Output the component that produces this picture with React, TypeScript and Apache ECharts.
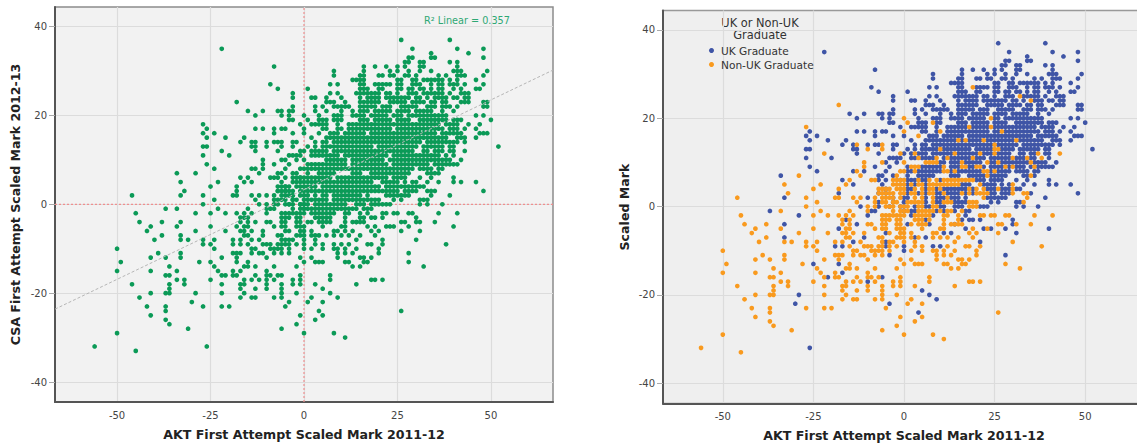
import React, { useEffect, useRef } from "react";
import * as echarts from "echarts";

const xTicks = [-50, -25, 0, 25, 50];
const yTicks = [-40, -20, 0, 20, 40];
const xTitle = "AKT First Attempt Scaled Mark 2011-12";
const yTitleLeft = "CSA First Attempt Scaled Mark 2012-13";
const yTitleRight = "Scaled Mark";
const legendTitle = "UK or Non-UK\nGraduate";
const nameUk = "UK Graduate";
const nameNonUk = "Non-UK Graduate";
const fitLabel = "R² Linear = 0.357";
const fitLine = [[-66.6, -23.6], [66.6, 30.2]];
const refLineH = [[-66.6, 0], [66.6, 0]];
const refLineV = [[0, -44.5], [0, 44.4]];

// Each row: [CSA mark, AKT marks at that CSA mark]
const ukRows: [number, number[]][] = [
  [37, [26, 39]],
  [35, [-22, 29, 41, 48]],
  [34, [34, 44]],
  [33, [28, 29, 34, 35, 48]],
  [32, [27, 28, 31, 32, 39, 41]],
  [31, [-8, 16, 19, 22, 25, 27, 31, 32, 41]],
  [30, [8, 16, 23, 25, 28, 31, 34, 40, 41, 42, 49]],
  [29, [8, 15, 16, 20, 21, 23, 24, 27, 28, 30, 36, 38, 41, 42, 43, 48]],
  [28, [13, 14, 15, 16, 25, 26, 29, 30, 32, 33, 34, 35, 36, 37, 39, 41, 46]],
  [27, [-9, 7, 9, 15, 16, 20, 21, 22, 23, 25, 26, 29, 30, 31, 34, 36, 37, 39, 40, 41, 43, 48]],
  [26, [-7, 1, 15, 16, 17, 20, 21, 25, 26, 28, 29, 31, 32, 34, 36, 37, 40, 42, 46, 47]],
  [25, [-3, 7, 9, 14, 15, 16, 17, 18, 19, 20, 22, 23, 25, 28, 29, 30, 33, 34, 35, 36, 37, 39, 42, 43, 44]],
  [24, [-3, 2, 3, 6, 10, 15, 17, 18, 19, 20, 22, 23, 24, 25, 26, 27, 28, 30, 31, 33, 36, 37, 38, 40, 41, 43, 44]],
  [23, [6, 7, 8, 11, 15, 16, 17, 18, 19, 20, 23, 24, 25, 26, 27, 29, 30, 31, 32, 34, 35, 37, 38, 42, 43, 44, 48, 49]],
  [22, [-3, 3, 5, 8, 9, 10, 11, 12, 15, 16, 17, 18, 19, 21, 22, 23, 26, 27, 28, 29, 30, 33, 34, 35, 37, 38, 39, 41, 48, 49]],
  [21, [-15, -11, -7, -6, -4, -3, 3, 6, 10, 13, 15, 16, 17, 19, 20, 21, 22, 23, 25, 26, 27, 28, 30, 31, 32, 33, 34, 37, 40]],
  [20, [-13, -6, -4, 4, 8, 9, 10, 13, 14, 15, 16, 18, 19, 20, 21, 22, 25, 26, 28, 29, 30, 31, 32, 33, 34, 35, 36, 37, 38, 46, 48]],
  [19, [-4, -3, 4, 5, 6, 9, 10, 15, 16, 17, 19, 20, 21, 22, 23, 25, 26, 27, 28, 31, 32, 33, 34, 35, 36, 37, 38, 40, 41, 42, 50]],
  [18, [-1, 2, 3, 4, 5, 6, 9, 12, 13, 14, 15, 16, 17, 19, 20, 21, 22, 23, 25, 26, 27, 28, 29, 30, 31, 32, 33, 34, 35, 36, 38, 39, 40, 41, 44, 47]],
  [17, [-26, -13, -11, -8, -6, -5, 5, 6, 9, 12, 13, 14, 15, 16, 17, 18, 19, 20, 21, 22, 23, 25, 26, 28, 29, 30, 31, 32, 33, 34, 35, 36, 37, 39, 40, 41, 43, 46]],
  [16, [-27, -24, -8, -3, 0, 7, 8, 9, 11, 12, 13, 14, 15, 16, 18, 19, 20, 21, 22, 23, 24, 25, 26, 27, 28, 29, 30, 31, 32, 33, 34, 35, 37, 38, 39, 40, 41, 42, 47, 48, 49]],
  [15, [-26, -21, -16, 2, 6, 7, 8, 9, 10, 11, 12, 13, 14, 16, 18, 19, 20, 21, 23, 24, 25, 26, 27, 28, 29, 30, 32, 33, 34, 35, 36, 37, 38, 41, 42, 43, 46]],
  [14, [-17, -14, -10, -8, -7, -3, -2, 3, 5, 6, 8, 9, 10, 11, 12, 13, 14, 15, 16, 17, 18, 19, 20, 21, 22, 23, 24, 26, 27, 28, 29, 30, 31, 33, 34, 35, 36, 37, 38, 39, 40, 41, 43]],
  [13, [-27, -26, -14, -13, -3, 1, 3, 5, 6, 7, 8, 9, 11, 12, 13, 14, 15, 16, 17, 18, 20, 21, 22, 23, 24, 27, 28, 29, 30, 32, 33, 34, 35, 36, 37, 39, 40, 52]],
  [12, [-13, -7, 0, 2, 4, 5, 6, 8, 9, 10, 11, 12, 13, 15, 16, 17, 18, 19, 20, 22, 23, 24, 26, 27, 28, 29, 32, 33, 35, 36, 39, 40]],
  [11, [-27, -20, -4, -3, -2, -1, 2, 3, 5, 6, 7, 8, 11, 13, 14, 15, 16, 17, 18, 20, 21, 22, 24, 25, 26, 27, 28, 29, 31, 32, 33, 35, 36, 40]],
  [10, [-5, -2, 10, 11, 13, 14, 15, 17, 18, 19, 20, 21, 24, 25, 27, 28, 29, 30, 31, 32, 33, 34, 36, 37, 38, 39, 42]],
  [9, [-26, -8, -4, 1, 5, 6, 7, 8, 9, 10, 13, 14, 15, 18, 19, 22, 24, 25, 26, 27, 29, 31, 32, 33, 35, 37, 38, 39, 40, 41]],
  [8, [-24, -14, -11, -5, 1, 2, 4, 5, 6, 7, 8, 9, 10, 13, 15, 16, 17, 18, 19, 20, 21, 24, 26, 27, 28, 29, 31, 32, 33, 34, 36, 37]],
  [7, [-34, -7, -6, -3, 1, 4, 5, 6, 7, 8, 13, 14, 15, 18, 19, 20, 21, 22, 24, 25, 26, 27, 28, 33, 34, 36]],
  [6, [-17, -7, -5, -1, 1, 2, 3, 5, 6, 10, 20, 21, 22, 24, 25, 26, 27, 31, 34, 40]],
  [5, [-14, -6, 1, 3, 6, 16, 17, 18, 22, 23, 24, 25, 27, 29, 33, 36, 40, 42, 46]],
  [4, [-5, 1, 2, 6, 9, 11, 12, 13, 14, 15, 16, 17, 19, 23, 24, 25, 27, 28, 29, 31, 32]],
  [3, [-18, -7, -5, 1, 4, 6, 9, 10, 12, 13, 14, 15, 17, 19, 24, 25, 27, 28, 29, 35, 48]],
  [2, [-33, -10, -3, 0, 1, 6, 9, 10, 11, 13, 14, 15, 17, 23, 24, 25, 26, 27, 28, 39]],
  [1, [-7, -3, 0, 6, 9, 10, 14, 15, 16, 17, 24, 26, 31, 32]],
  [0, [-12, -7, -4, -1, 0, 3, 6, 7, 10, 11, 14, 15, 16, 21, 22, 23, 31, 33, 37]],
  [-1, [-37, -9, -8, 0, 2, 3, 9, 11, 14, 17, 18]],
  [-2, [-29, -10, 2, 8, 17]],
  [-3, [-16, 6, 16, 18, 19, 21, 30]],
  [-4, [-33, -13, 1, 7, 14, 30]],
  [-5, [-18, 17, 22, 24, 28, 40]],
  [-6, [-5, 11, 13, 31]],
  [-7, [-33, -11, 3, 6]],
  [-8, [-14, -5, 21]],
  [-9, [-19, -17, -5, 0, 8, 10]],
  [-10, [0]],
  [-11, [-4, 28]],
  [-13, [-25, -18]],
  [-15, [-17]],
  [-16, [-21, -6]],
  [-17, [-10]],
  [-19, [5]],
  [-20, [-29, 7]],
  [-21, [9]],
  [-22, [-30, -4]],
  [-24, [4]],
  [-32, [-26]],
];

const nonUkRows: [number, number[]][] = [
  [27, [19]],
  [25, [32]],
  [24, [35]],
  [23, [-18]],
  [20, [0, 24]],
  [19, [1, 8]],
  [18, [-27, 18, 24]],
  [17, [0, 10, 27]],
  [16, [4]],
  [15, [15, 17, 22, 31]],
  [14, [-13, -6, 25]],
  [13, [-10, -6, 10, 25, 26]],
  [12, [-22, -1, 3, 14, 21, 25, 37, 43]],
  [11, [4, 9, 12, 19, 30, 34, 38]],
  [10, [-11, -6, 0, 6, 7, 8, 9, 16, 23, 26, 35]],
  [9, [-11, 2, 3, 4, 11, 16, 17, 20, 21, 28, 30, 36]],
  [8, [-13, -1, 0, 3, 11, 12, 14, 22, 23, 25]],
  [7, [-29, -12, -2, 23, 35]],
  [6, [-15, -9, -8, -3, -2, -1, 0, 4, 7, 9, 11, 12, 13, 14, 15, 16, 17, 18, 19]],
  [5, [-33, -23, -16, -3, -2, -1, 0, 2, 4, 5, 7, 8, 9, 10, 11, 12, 13, 14, 15, 21, 30]],
  [4, [-25, -18, -7, -6, -5, -4, -2, -1, 0, 3, 5, 7, 8, 10, 18, 20, 22, 26, 30]],
  [3, [-32, -7, -6, -5, -4, -3, -1, 0, 2, 3, 5, 7, 8, 11, 16, 18, 20, 21, 22, 23, 30, 33, 34]],
  [2, [-46, -27, -19, -18, -14, -12, -8, -6, -5, -4, -3, -1, 3, 5, 8, 12, 22, 34]],
  [1, [-24, -13, -8, -6, -5, -3, -2, 1, 2, 3, 4, 5, 8, 11, 12, 13, 18, 19, 20, 33]],
  [0, [-27, -10, -8, -5, -4, -3, -1, 0, 1, 4, 5, 8, 9, 18, 19, 20]],
  [-1, [-34, -23, -15, -10, -3, -1, 0, 1, 4, 5, 6, 7, 8, 10, 12, 13, 16]],
  [-2, [-45, -25, -21, -18, -16, -14, -6, -5, -4, -3, -2, -1, 0, 3, 4, 5, 6, 7, 11, 12, 15, 21, 22, 24, 25, 28, 29, 36, 41]],
  [-3, [-17, -15, -6, -5, -4, -2, -1, 3, 4, 5, 7, 11, 15]],
  [-4, [-44, -38, -17, -15, -10, -9, -6, -5, -2, -1, 2, 4, 5, 6, 11, 13, 14, 15, 16, 26, 27, 31, 35]],
  [-5, [-41, -34, -25, -16, -15, -8, -6, -5, -2, -1, 0, 5, 10, 11, 19, 23]],
  [-6, [-42, -29, -21, -17, -16, -14, -11, -4, -1, 0, 2, 8, 9, 18, 20, 26]],
  [-7, [-38, -16, -15, -7, -6, -2, -1, 0, 2, 4, 8, 10, 12, 15, 19]],
  [-8, [-40, -33, -31, -27, -24, -19, -17, -12, -6, -4, -3, 0, 3, 14, 30]],
  [-9, [-27, -25, -15, -11, -10, -9, -7, -6, -4, -2, 3, 5, 12, 17, 18, 21, 38]],
  [-10, [-50, -24, -14, -13, -9, -8, -7, -6, -4, 2, 5, 8, 9, 11, 14, 20]],
  [-11, [-39, -33, -19, -18, -17, -14, -12, -11, -8, -6, 9, 11, 13, 20]],
  [-12, [-41, -37, -33, -22, -18, -10, -1, 2, 9, 15, 16, 18]],
  [-13, [-49, -28, -15, 0, 3, 4, 5, 11, 12, 16, 17, 28]],
  [-14, [-36, -24, -16, -15, -13, -8, -2, 13, 15, 32]],
  [-15, [-50, -41, -34, -23, -19, -10]],
  [-16, [-37, -36, -22, -19, -18, -13, -10, -9, -7, -1, 7]],
  [-17, [-34, -32, -25, -16, -14, -12, -8, -3, -1, 7, 18, 19, 21]],
  [-18, [-46, -36, -32, -22, -17, -16, -10, -6, -3, -1, 3, 14]],
  [-19, [-36, -17, -13, -10, -6]],
  [-20, [-41, -37, -36, -22, -16, -6, -2]],
  [-21, [-44, -17, -14, -13, -8, -6, 2]],
  [-22, [1, 5]],
  [-23, [-42, -37, -27, -22, -20, -5]],
  [-24, [-37, 26]],
  [-25, [-41, -1, 5]],
  [-26, [-37, 3]],
  [-27, [-36, -2]],
  [-28, [-31, -6]],
  [-29, [-50, 0, 8]],
  [-30, [11]],
  [-32, [-56]],
  [-33, [-45]],
];

const toPoints = (rows: [number, number[]][]) =>
  rows.flatMap(([y, xs]) => xs.map((x) => [x, y]));

const FONT = "'DejaVu Sans', sans-serif";
const GREEN = "#0b9a57";
const BLUE = "#3f55a6";
const ORANGE = "#f99a1e";
const DOT = 4.7;

function axisBase(name: string, gap: number, ticks: number[], min: number, max: number, tickLen: number) {
  return {
    type: "value" as const,
    min,
    max,
    name,
    nameLocation: "middle" as const,
    nameGap: gap,
    nameTextStyle: { fontFamily: FONT, fontWeight: "bold" as const, fontSize: 12.6, color: "#222" },
    axisLine: { show: true, onZero: false, lineStyle: { color: "#555", width: 2 } },
    axisTick: { show: tickLen > 0, length: tickLen, customValues: ticks, lineStyle: { color: "#aaa", width: 1 } },
    axisLabel: { customValues: ticks, fontFamily: FONT, fontSize: 10, color: "#444", margin: 8, showMinLabel: true, showMaxLabel: true, padding: tickLen > 0 ? [3, 0, 0, 0] : 0 },
    splitLine: { show: true, lineStyle: { color: "#dcdcdc", width: 1.2 } },
  };
}

export default function App() {
  const ref = useRef<HTMLDivElement>(null);
  useEffect(() => {
    document.body.style.margin = "0";
    const chart = echarts.init(ref.current!, null, { renderer: "svg" });
    const uk = toPoints(ukRows);
    const nonUk = toPoints(nonUkRows);
    chart.setOption({
      animation: false,
      backgroundColor: "#fff",
      grid: [
        { left: 55, top: 7, width: 498, height: 395, outerBoundsMode: "none", show: true, backgroundColor: "#f2f2f2", borderColor: "#8c8c8c", borderWidth: 1.5 },
        { left: 663, top: 10.5, width: 482, height: 393, outerBoundsMode: "none", show: true, backgroundColor: "#efefef", borderColor: "#999", borderWidth: 1.5 },
      ],
      xAxis: [
        { ...axisBase(xTitle, 26, xTicks, -66.6, 66.6, 0), gridIndex: 0 },
        { ...axisBase(xTitle, 25, xTicks, -66.5, 66.5, 0), gridIndex: 1 },
      ],
      yAxis: [
        { ...axisBase(yTitleLeft, 33, yTicks, -44.5, 44.4, 6), gridIndex: 0 },
        { ...axisBase(yTitleRight, 32, yTicks, -44.6, 44.4, 6), gridIndex: 1 },
      ],
      legend: {
        data: [nameUk, nameNonUk],
        orient: "vertical",
        left: 709,
        top: 45,
        icon: "circle",
        itemWidth: 5,
        itemHeight: 5,
        itemGap: 3,
        padding: 0,
        textStyle: { fontFamily: FONT, fontSize: 10.6, color: "#333", padding: [0, 0, 0, 2] },
      },
      graphic: [
        { type: "text", x: 467, y: 15, style: { text: fitLabel, fill: "#2ea874", fontFamily: FONT, fontSize: 9.7, textAlign: "center" } },
        { type: "text", x: 760, y: 17, style: { text: legendTitle, fill: "#333", fontFamily: FONT, fontSize: 11.4, textAlign: "center", lineHeight: 12 } },
      ],
      series: [
        { type: "line", xAxisIndex: 0, yAxisIndex: 0, data: refLineH, showSymbol: false, silent: true, lineStyle: { color: "#ef8f8f", width: 1.2, type: [2, 2] }, z: 1 },
        { type: "line", xAxisIndex: 0, yAxisIndex: 0, data: refLineV, showSymbol: false, silent: true, lineStyle: { color: "#ef8f8f", width: 1.2, type: [2, 2] }, z: 1 },
        { type: "scatter", name: "All", xAxisIndex: 0, yAxisIndex: 0, data: [...uk, ...nonUk], symbolSize: DOT, itemStyle: { color: GREEN, opacity: 1 }, z: 2 },
        { type: "line", xAxisIndex: 0, yAxisIndex: 0, data: fitLine, showSymbol: false, silent: true, lineStyle: { color: "#b5b5b5", width: 1, type: [3, 2] }, z: 3 },
        { type: "scatter", name: nameUk, xAxisIndex: 1, yAxisIndex: 1, data: uk, symbolSize: DOT, itemStyle: { color: BLUE, opacity: 1 }, z: 2 },
        { type: "scatter", name: nameNonUk, xAxisIndex: 1, yAxisIndex: 1, data: nonUk, symbolSize: DOT, itemStyle: { color: ORANGE, opacity: 1 }, z: 3 },
      ],
    });
    return () => chart.dispose();
  }, []);
  return (
    <div style={{ width: 1137, height: 445, overflow: "hidden" }}>
      <div ref={ref} style={{ width: 1160, height: 445 }} />
    </div>
  );
}
